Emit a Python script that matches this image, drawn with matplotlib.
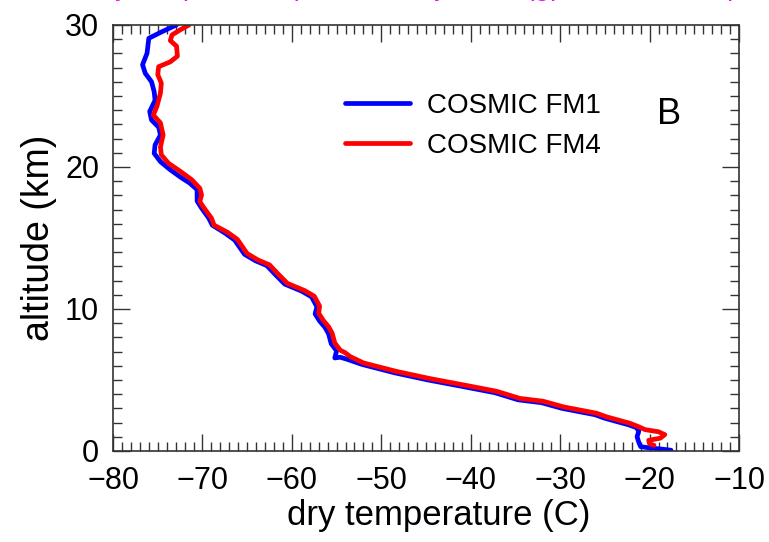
import matplotlib

matplotlib.use("Agg")
import matplotlib.pyplot as plt
from matplotlib.ticker import MultipleLocator

plt.rcParams["font.family"] = ["Liberation Sans", "DejaVu Sans"]

# dry temperature profiles (C) against altitude (km), top to bottom
fm1_temp = [-72.9, -74.6, -76.0, -76.2, -76.7, -76.4, -75.7, -75.4, -75.3, -75.9,
            -75.7, -74.9, -74.7, -75.3, -75.4, -74.7, -73.6, -72.5, -71.4, -70.6,
            -70.6, -70.1, -69.3, -68.9, -67.5, -66.4, -65.3, -64.1, -62.8, -61.9,
            -60.8, -58.9, -57.8, -57.2, -57.4, -56.9, -56.3, -55.9, -55.6, -55.0,
            -55.2, -54.6, -53.8, -52.2, -48.5, -44.8, -41.0, -37.3, -34.7, -32.1,
            -29.8, -26.1, -25.0, -22.4, -21.5, -21.2, -21.4, -21.2, -21.0, -19.8,
            -18.5, -17.6]
fm1_alt = [30.0, 29.5, 29.06, 28.0, 27.2, 26.6, 26.0, 25.3, 24.7, 23.9,
           23.3, 22.8, 22.25, 21.55, 20.96, 20.37, 19.8, 19.3, 18.85, 18.4,
           17.6, 17.1, 16.4, 15.9, 15.35, 14.85, 13.85, 13.4, 13.05, 12.45,
           11.75, 11.25, 10.85, 10.15, 9.65, 9.15, 8.7, 8.25, 7.55, 7.05,
           6.55, 6.6, 6.45, 6.1, 5.5, 5.0, 4.55, 4.1, 3.6, 3.4,
           3.0, 2.55, 2.3, 1.85, 1.65, 1.4, 1.0, 0.6, 0.3, 0.2,
           0.12, 0.05]

fm4_temp = [-71.5, -72.5, -73.4, -73.6, -72.9, -72.8, -73.6, -74.9, -75.0, -74.6,
            -74.7, -75.1, -75.5, -74.7, -74.4, -74.7, -74.6, -73.8, -72.5, -71.2,
            -70.3, -70.1, -70.3, -69.7, -69.0, -68.7, -67.2, -66.1, -65.0, -63.8,
            -62.5, -61.6, -60.5, -58.6, -57.5, -56.9, -57.0, -56.5, -55.9, -55.5,
            -55.2, -54.6, -54.0, -53.5, -52.0, -48.3, -44.6, -40.8, -37.1, -34.5,
            -31.9, -29.6, -25.9, -24.8, -22.2, -21.4, -20.5, -19.0, -18.3, -18.8,
            -20.1, -20.0, -19.5]
fm4_alt = [30.0, 29.65, 29.3, 28.9, 28.5, 27.8, 27.4, 27.06, 26.5, 25.9,
           25.2, 24.25, 23.66, 23.1, 22.25, 21.4, 20.85, 20.26, 19.7, 19.1,
           18.5, 18.03, 17.56, 17.0, 16.4, 15.9, 15.4, 14.9, 13.9, 13.45,
           13.1, 12.5, 11.8, 11.3, 10.9, 10.2, 9.7, 9.2, 8.75, 8.3,
           7.6, 7.1, 6.9, 6.65, 6.2, 5.6, 5.1, 4.65, 4.2, 3.7,
           3.5, 3.1, 2.65, 2.4, 1.95, 1.75, 1.5, 1.35, 1.15, 0.9,
           0.75, 0.5, 0.4]

x_ticks = [-80, -70, -60, -50, -40, -30, -20, -10]
y_ticks = [0, 10, 20, 30]

fig = plt.figure(figsize=(7.69, 5.42), dpi=100)
ax = fig.add_axes([0.147, 0.168, 0.814, 0.786])

ax.plot(fm1_temp, fm1_alt, color="#0000ff", lw=3.4, label="COSMIC FM1",
        solid_joinstyle="round", solid_capstyle="round")
ax.plot(fm4_temp, fm4_alt, color="#ff0000", lw=3.4, label="COSMIC FM4",
        solid_joinstyle="round", solid_capstyle="round")

ax.set_xlim(-80, -10)
ax.set_ylim(0, 30)
ax.set_xticks(x_ticks)
ax.set_yticks(y_ticks)
ax.set_xticklabels([f"\u2212{abs(v)}" for v in x_ticks])
ax.set_yticklabels([str(v) for v in y_ticks])
ax.xaxis.set_minor_locator(MultipleLocator(1))
ax.yaxis.set_minor_locator(MultipleLocator(1))
ax.tick_params(which="both", direction="in", top=True, right=True,
               color="#333333", width=1.0, labelsize=22)
ax.tick_params(which="major", length=12, pad=10)
ax.tick_params(axis="x", which="major", pad=11)
ax.tick_params(which="minor", length=6.5)
for spine in ax.spines.values():
    spine.set_color("#333333")
    spine.set_linewidth(1.2)

ax.set_xlabel("dry temperature (C)", fontsize=25, labelpad=2, x=0.52)
ax.set_ylabel("altitude (km)", fontsize=27, labelpad=6)

ax.legend(loc="upper left", bbox_to_anchor=(0.353, 0.866), frameon=False,
          fontsize=20, handlelength=2.35, handletextpad=0.6, labelspacing=0.5,
          borderaxespad=0)
ax.text(0.888, 0.79, "B", transform=ax.transAxes, fontsize=26,
        ha="center", va="center")

# title line, mostly above the canvas
fig.text(0.5, 1.0 + 5 / 542, "COSMIC dry temperature profiles, July 2006 (gps occultation pairs)",
         color="#ff00ff", fontsize=20, ha="center", va="baseline")

fig.savefig("out.png", dpi=100)
plt.close(fig)
